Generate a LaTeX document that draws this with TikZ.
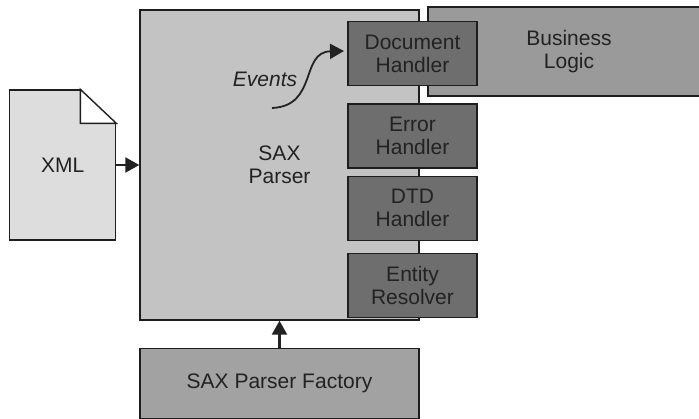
\documentclass[tikz,border=0pt]{standalone}
\usepackage{fontspec}
\setmainfont{Liberation Sans}
\usetikzlibrary{positioning, arrows.meta}
\definecolor{ink}{HTML}{222222}
\definecolor{edge}{HTML}{1E1E1E}
\definecolor{parsergray}{HTML}{C3C3C3}
\definecolor{logicgray}{HTML}{9A9A9A}
\definecolor{handlergray}{HTML}{6E6E6E}
\definecolor{factorygray}{HTML}{A2A2A2}
\definecolor{xmlgray}{HTML}{DDDDDD}

\begin{document}
\begin{tikzpicture}[x=1pt, y=-1pt, >={Triangle[length=14pt,width=15pt]},
  font=\fontsize{21}{23}\selectfont,
  box/.style={draw=edge, line width=1.4pt, align=center, inner sep=0pt, text=ink},
  handler/.style={box, fill=handlergray, minimum width=129pt, minimum height=64pt},
  flow/.style={->, line width=2.4pt, draw=ink}]
  \useasboundingbox (0,0) rectangle (699,418);
  \node[box, fill=parsergray, minimum width=279pt, minimum height=310pt] (parser) at (279.5,165) {SAX\\Parser};
  \node[box, fill=logicgray, minimum width=282pt, minimum height=89pt] (logic) at (569,51.5) {Business\\Logic};
  \node[handler] (dochandler) at (412.5,53.5) {Document\\Handler};
  \node[handler] (errhandler) [below=17pt of dochandler] {Error\\Handler};
  \node[handler] (dtdhandler) [below=7pt of errhandler] {DTD\\Handler};
  \node[handler] (resolver) [below=12pt of dtdhandler] {Entity\\Resolver};
  \node[box, fill=xmlgray, minimum width=106pt, minimum height=150pt] (xml) [left=23pt of parser] {XML};
  \fill[white] ([xshift=-36pt,yshift=1pt]xml.north east) rectangle ([xshift=1pt,yshift=-34pt]xml.north east);
  \draw[line width=1.4pt, edge] ([xshift=-36pt]xml.north east) -- ([xshift=-36pt,yshift=-34pt]xml.north east) -- ([yshift=-34pt]xml.north east) -- cycle;
  \node[box, fill=factorygray, minimum width=279pt, minimum height=70pt] (factory) [below=27pt of parser] {SAX Parser Factory};
  \draw[flow] (xml.east) -- (xml.east -| parser.west);
  \draw[flow] (factory.north) -- (parser.south);
  \coordinate (evtail) at (272,108);
  \coordinate (evtip) at (344,51);
  \draw[flow, line width=1.8pt] (evtail) .. controls (318,106) and (300,52) .. (evtip);
  \node[font=\fontsize{21}{23}\selectfont\itshape, text=ink] (events) at (265,79) {Events};
\end{tikzpicture}
\end{document}
